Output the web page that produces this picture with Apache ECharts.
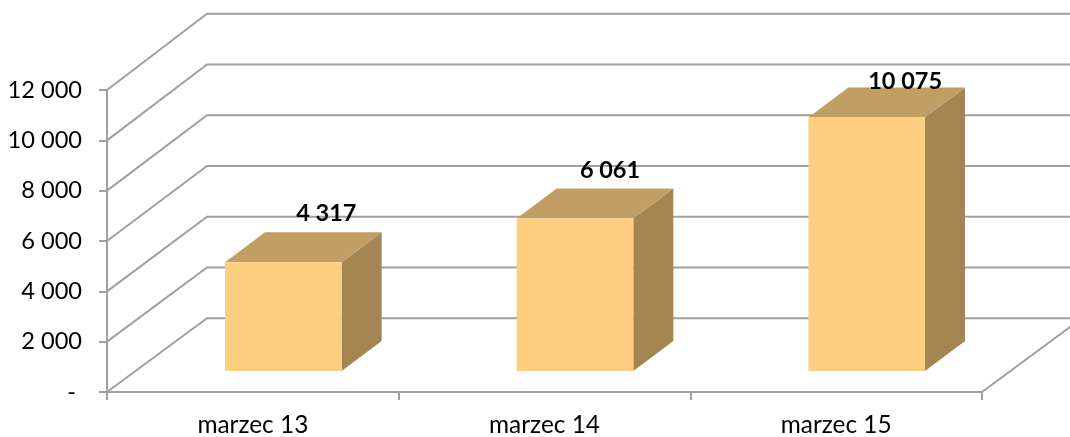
<!DOCTYPE html>
<html>
<head>
<meta charset="utf-8">
<style>html,body{margin:0;padding:0;background:#fff}#chart{width:1070px;height:437px}</style>
<script src="https://cdn.jsdelivr.net/npm/echarts@6/dist/echarts.min.js"></script>
</head>
<body>
<div id="chart"></div>
<script>
// Monthly totals drawn as a pseudo-3D column chart
const categories = ['marzec 13', 'marzec 14', 'marzec 15'];
const values = [4317, 6061, 10075];
const valueLabels = ['4 317', '6 061', '10 075'];
const yTicks = [0, 2000, 4000, 6000, 8000, 10000, 12000];
const yTickLabels = ['-\u00a0', '2 000', '4 000', '6 000', '8 000', '10 000', '12 000'];

// Oblique projection: how far the back wall and the bars sit behind the axis plane
const WALL_DX = 100, WALL_DY = -75;
const WALL_SPREAD = 2.4; // the back wall is drawn very slightly taller than the axis
const BAR_PLANE_DX = 30.5, BAR_PLANE_DY = -21;
const BAR_DEPTH_DX = 40, BAR_DEPTH_DY = -30;
const BAR_BAND_RATIO = 0.4;
// Hand-placed data labels, relative to the middle of each column's front top edge
const labelNudges = [[43, -49], [35, -48], [38.5, -36]];

const LINE = '#a0a0a0';
const LINE_WIDTH = 2;
const FRONT = '#fecf81', TOP = '#c19e64', SIDE = '#a38651';
const TEXT_FONT = 'Lato, "Open Sans", sans-serif';

function renderWall(params, api) {
  const rect = params.coordSys;
  const v = api.value(0);
  const y = api.coord([0, v])[1];
  const yBack = y + WALL_DY + WALL_SPREAD * (0.5 - v / yTicks[yTicks.length - 1]);
  const x0 = rect.x;
  const x1 = rect.x + rect.width;
  const children = [{
    type: 'polyline',
    shape: { points: [[x0, y], [x0 + WALL_DX, yBack], [x1 + WALL_DX, yBack]] },
    style: { stroke: LINE, lineWidth: LINE_WIDTH, fill: null }
  }];
  // Right-hand edge of the floor runs from the end of the category axis
  if (v === 0) {
    children.push({
      type: 'line',
      shape: { x1: x1, y1: y, x2: x1 + WALL_DX, y2: yBack },
      style: { stroke: LINE, lineWidth: LINE_WIDTH }
    });
  }
  return { type: 'group', children: children };
}

function renderBar(params, api) {
  const i = api.value(0);
  const top = api.coord([i, api.value(1)]);
  const base = api.coord([i, 0]);
  const w = api.size([1, 0])[0] * BAR_BAND_RATIO;
  const xl = top[0] + BAR_PLANE_DX - w / 2;
  const xr = xl + w;
  const yt = top[1] + BAR_PLANE_DY;
  const yb = base[1] + BAR_PLANE_DY;
  const dx = BAR_DEPTH_DX, dy = BAR_DEPTH_DY;
  const nudge = labelNudges[i];
  return {
    type: 'group',
    children: [
      { type: 'polygon', shape: { points: [[xr, yt], [xr + dx, yt + dy], [xr + dx, yb + dy], [xr, yb]] }, style: { fill: SIDE } },
      { type: 'polygon', shape: { points: [[xl, yt], [xl + dx, yt + dy], [xr + dx, yt + dy], [xr, yt]] }, style: { fill: TOP } },
      { type: 'rect', shape: { x: xl, y: yt, width: w, height: yb - yt }, style: { fill: FRONT } },
      {
        type: 'text',
        style: {
          x: (xl + xr) / 2 + nudge[0], y: yt + nudge[1],
          text: valueLabels[i], fill: '#000',
          font: 'bold 23.5px ' + TEXT_FONT,
          textAlign: 'center', textVerticalAlign: 'middle'
        }
      }
    ]
  };
}

const chart = echarts.init(document.getElementById('chart'), null, { renderer: 'canvas' });
chart.setOption({
  animation: false,
  backgroundColor: '#fff',
  grid: { left: 107, right: 88, top: 90, bottom: 44.4, containLabel: false },
  xAxis: {
    type: 'category',
    data: categories,
    axisLine: { lineStyle: { color: LINE, width: LINE_WIDTH } },
    axisTick: { show: true, length: 8, lineStyle: { color: LINE, width: LINE_WIDTH } },
    axisLabel: { color: '#000', fontSize: 24.4, fontFamily: TEXT_FONT, margin: 21 },
    splitLine: { show: false }
  },
  yAxis: {
    type: 'value',
    min: 0, max: 12000, interval: 2000,
    axisLine: { show: true, lineStyle: { color: LINE, width: LINE_WIDTH } },
    axisTick: { show: true, length: 8, lineStyle: { color: LINE, width: LINE_WIDTH } },
    axisLabel: {
      color: '#000', fontSize: 23.6, fontFamily: TEXT_FONT, margin: 25,
      padding: [2, 0, 0, 0],
      formatter: v => yTickLabels[yTicks.indexOf(v)]
    },
    splitLine: { show: false }
  },
  series: [
    {
      type: 'custom', clip: false, silent: true, z: 1,
      renderItem: renderWall,
      encode: { y: 0 },
      data: yTicks.map(v => [v])
    },
    {
      type: 'custom', clip: false, silent: true, z: 2,
      renderItem: renderBar,
      encode: { x: 0, y: 1 },
      data: values.map((v, i) => [i, v])
    }
  ]
});
</script>
</body>
</html>
